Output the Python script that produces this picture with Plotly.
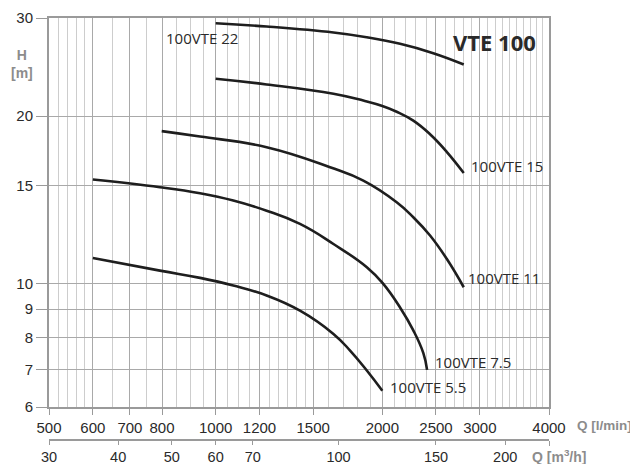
import numpy as np
import plotly.graph_objects as go

# ---------------- data ----------------
q_22 = [1000, 1236, 1632, 1875, 2153, 2472, 2806]
h_22 = [29.36, 28.96, 28.25, 27.7, 26.96, 25.94, 24.75]

q_15 = [1000, 1236, 1632, 1848, 2000, 2123, 2275, 2439, 2614, 2806]
h_15 = [23.33, 22.79, 21.93, 21.32, 20.85, 20.36, 19.62, 18.55, 17.25, 15.8]

q_11 = [799, 937, 1236, 1609, 1848, 2123, 2275, 2439, 2614, 2806]
h_11 = [18.79, 18.37, 17.58, 16.18, 15.31, 14.0, 13.16, 12.2, 11.08, 9.85]

q_75 = [600, 793, 937, 1076, 1236, 1420, 1632, 1875, 2008, 2153, 2275, 2372, 2409]
h_75 = [15.38, 14.9, 14.53, 14.1, 13.52, 12.8, 11.78, 10.7, 9.99, 9.06, 8.24, 7.5, 7.0]

q_55 = [600, 793, 937, 1076, 1236, 1420, 1632, 1749, 1875, 2000]
h_55 = [11.12, 10.55, 10.24, 9.92, 9.52, 8.94, 8.12, 7.58, 6.98, 6.42]

series_names = ["100VTE 22", "100VTE 15", "100VTE 11", "100VTE 7.5", "100VTE 5.5"]

x_major = [500, 600, 700, 800, 1000, 1200, 1500, 2000, 2500, 3000, 4000]
x_minor = ([520, 540, 560, 580]
           + [650, 750, 850, 900, 950, 1050, 1100, 1150, 1250, 1300, 1350, 1400, 1450]
           + [1600, 1700, 1800, 1900, 2100, 2200, 2300, 2400, 2600, 2700, 2800, 2900,
              3100, 3200, 3300, 3400, 3500, 3600, 3700, 3800, 3900])
y_ticks = [6, 7, 8, 9, 10, 15, 20, 30]
m3h_ticks = [30, 40, 50, 60, 70, 100, 150, 200]
m3h_end = [240]

x_range = [500, 4000]
y_range = [6, 30]
m3h_range = [30, 240]

# ---------------- figure ----------------
LINE = "#1e1e1e"
GRID_MAJ = "#a9a9a9"
GRID_MIN = "#cdcdcd"
AXIS = "#9a9a9a"
TXT = "#2a2a2a"
GRAY = "#8c8c8c"
LBL_FONT = "Open Sans"

fig = go.Figure()

curves = [(q_22, h_22), (q_15, h_15), (q_11, h_11), (q_75, h_75), (q_55, h_55)]
for (q, h), name in zip(curves, series_names):
    fig.add_trace(go.Scatter(x=q, y=h, mode="lines", name=name,
                             line=dict(color=LINE, width=2.6, shape="spline", smoothing=1.3),
                             showlegend=False, hoverinfo="x+y"))

# helper trace so the secondary (m3/h) axis is drawn
fig.add_trace(go.Scatter(x=m3h_range, y=[y_range[0], y_range[0]], xaxis="x2", yaxis="y",
                         mode="markers", marker=dict(opacity=0, size=1),
                         showlegend=False, hoverinfo="skip"))

# curve labels, anchored to curve end points
label_specs = [
    (q_22[0], h_22[0], series_names[0], -52, -15),
    (q_15[-1], h_15[-1], series_names[1], 5, 7),
    (q_11[-1], h_11[-1], series_names[2], 2, 9),
    (q_75[-1], h_75[-1], series_names[3], 6, 8),
    (q_55[-1], h_55[-1], series_names[4], 6, 4),
]
for qx, hy, txt, xs, ys in label_specs:
    fig.add_annotation(x=np.log10(qx), y=np.log10(hy), xref="x", yref="y", text=txt,
                       showarrow=False, xanchor="left", yanchor="middle",
                       xshift=xs, yshift=ys,
                       font=dict(family=LBL_FONT, size=15, color=TXT))

fig.add_annotation(x=0.978, y=0.942, xref="paper", yref="paper", text="<b>VTE 100</b>",
                   showarrow=False, xanchor="right", yanchor="middle",
                   font=dict(family=LBL_FONT, size=22, color=TXT))

fig.add_annotation(x=-0.0546, y=0.891, xref="paper", yref="paper", text="<b>H<br>[m]</b>",
                   showarrow=False, xanchor="center", yanchor="middle",
                   font=dict(family="Liberation Sans, Arial", size=14, color=GRAY))
fig.add_annotation(x=1.17, y=0.0355, xref="paper", yref="paper", text="<b>Q [l/min]</b>",
                   showarrow=False, xanchor="right", yanchor="middle",
                   font=dict(family="Liberation Sans, Arial", size=13.5, color=GRAY))
fig.add_annotation(x=0.962, y=-0.038, xref="paper", yref="paper",
                   text="<b>Q [m<sup>3</sup>/h]</b>",
                   showarrow=False, xanchor="left", yanchor="middle",
                   font=dict(family="Liberation Sans, Arial", size=14, color=GRAY))

tickfont = dict(family="Liberation Sans, Arial", size=15, color=TXT)

# the page body has an 8px default margin, so the figure is 8px smaller and offset
fig.update_layout(
    width=630, height=456, autosize=False,
    margin=dict(l=41, r=89, t=9.5, b=24, pad=0, autoexpand=False),
    paper_bgcolor="white", plot_bgcolor="white",
    showlegend=False,
    xaxis=dict(type="log", range=[np.log10(x_range[0]), np.log10(x_range[1])],
               tickmode="array", tickvals=x_major, ticktext=[str(v) for v in x_major],
               ticks="outside", ticklen=6, tickcolor=AXIS, tickwidth=1,
               showgrid=True, gridcolor=GRID_MAJ, gridwidth=1,
               minor=dict(tickmode="array", tickvals=x_minor, showgrid=True,
                          gridcolor=GRID_MIN, gridwidth=1, ticks=""),
               showline=True, linecolor=AXIS, linewidth=2, mirror=True,
               tickfont=tickfont, anchor="y", zeroline=False, automargin=False),
    xaxis2=dict(type="log", range=[np.log10(m3h_range[0]), np.log10(m3h_range[1])],
                overlaying="x", anchor="free", position=0, side="bottom",
                tickmode="array", tickvals=m3h_ticks, ticktext=[str(v) for v in m3h_ticks],
                ticks="outside", ticklen=4, tickcolor=AXIS, tickwidth=1,
                minor=dict(tickmode="array", tickvals=m3h_end, ticks="outside",
                           ticklen=5, tickcolor=AXIS, showgrid=False),
                showgrid=False, showline=True, linecolor=AXIS, linewidth=1.5,
                tickfont=dict(family="Liberation Sans, Arial", size=14.5, color=TXT),
                zeroline=False, automargin=False),
    yaxis=dict(type="log", range=[np.log10(y_range[0]), np.log10(y_range[1])],
               domain=[0.078, 1],
               tickmode="array", tickvals=y_ticks, ticktext=[str(v) for v in y_ticks],
               ticks="outside", ticklen=11, tickcolor=AXIS, tickwidth=1,
               showgrid=True, gridcolor=GRID_MAJ, gridwidth=1,
               showline=True, linecolor=AXIS, linewidth=2, mirror=True,
               tickfont=tickfont, zeroline=False, automargin=False),
)

fig.write_html("out.html")
